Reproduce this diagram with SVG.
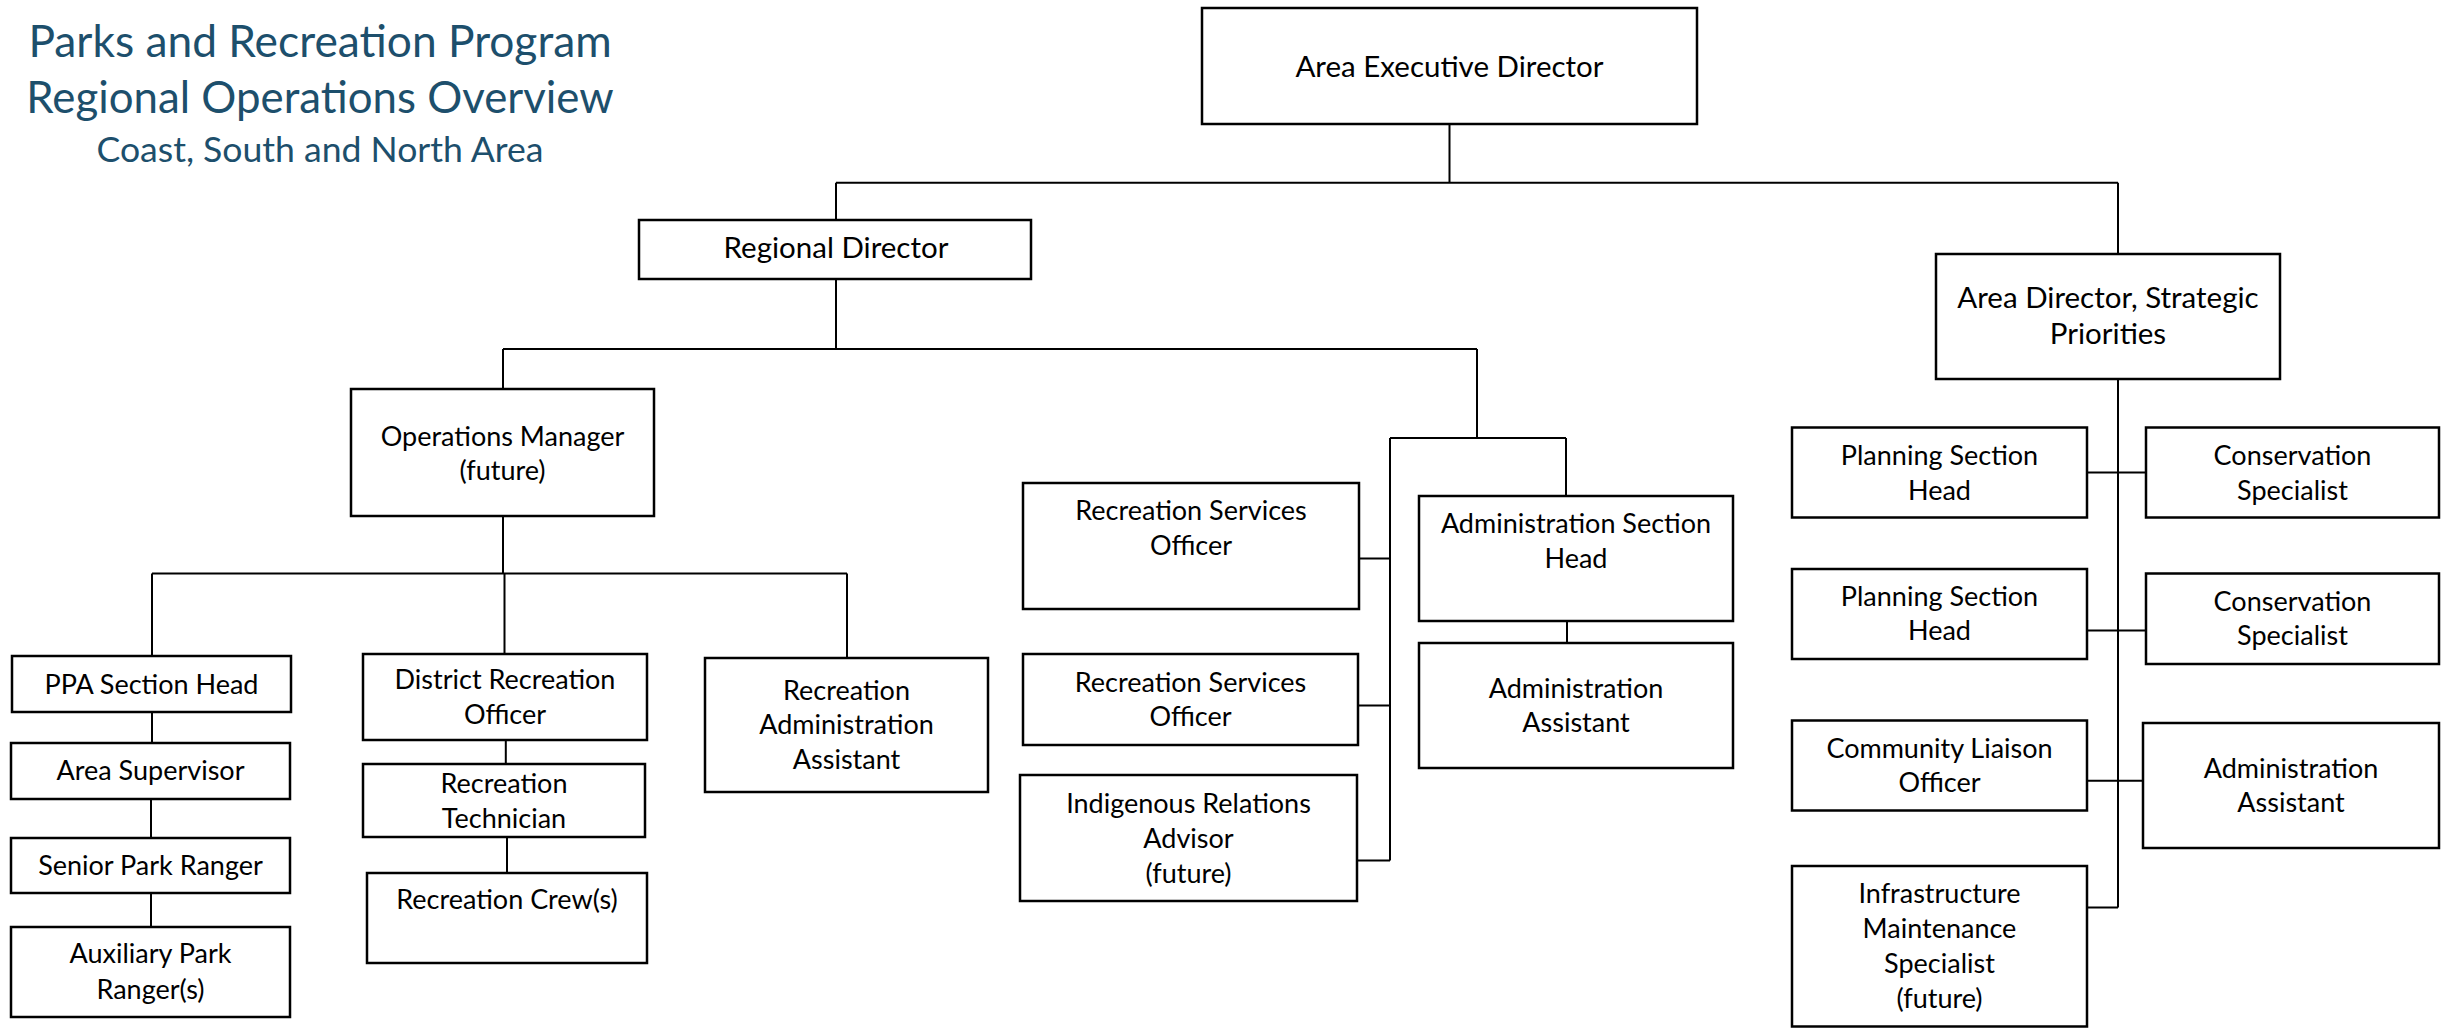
<svg xmlns="http://www.w3.org/2000/svg" width="2441" height="1028" viewBox="0 0 2441 1028">
<style>
.box{fill:#fff;stroke:#000;stroke-width:2.5}
.t{font-family:Lato,"Liberation Sans",sans-serif;font-size:27px;fill:#000;text-anchor:middle}
.big{font-size:29.5px}
.title{font-family:Lato,"Liberation Sans",sans-serif;fill:#1D4F6C;text-anchor:middle}
#connectors path{fill:none;stroke:#000;stroke-width:2}
</style>
<rect width="2441" height="1028" fill="#fff"/>
<g id="title">
<text class="title" x="320" y="57" font-size="44.3">Parks and Recreation Program</text>
<text class="title" x="320" y="113" font-size="43.8">Regional Operations Overview</text>
<text class="title" x="320" y="162" font-size="35.6">Coast, South and North Area</text>
</g>
<g id="connectors">
<path d="M1449.5 124V182.7M836 182.7H2118M836 182.7V220M2118 182.7V254"/>
<path d="M836 279V349M503 349H1477M503 349V389M1477 349V438"/>
<path d="M1390 438H1566M1566 438V496M1390 438V860.5M1359 558.6H1390M1358 705.6H1390M1357 860.5H1390M1567 621V643"/>
<path d="M503 516V573.4M152 573.4H847M152 573.4V656M504.5 573.4V654M847 573.4V658"/>
<path d="M152 712V743M151 799V838M151 893V927M505.8 740V764M507 837V873"/>
<path d="M2118 379V907.5M2087 472.6H2146M2087 630.4H2146M2087 780.8H2143M2087 907.5H2118"/>
</g>
<g id="aed"><rect class="box" x="1202" y="8" width="495" height="116"/><text class="t big" x="1449.5" y="77">Area Executive Director</text></g>
<g id="rd"><rect class="box" x="639" y="220" width="392" height="59"/><text class="t big" x="836" y="258">Regional Director</text></g>
<g id="ads"><rect class="box" x="1936" y="254" width="344" height="125"/><text class="t big" x="2108" y="308">Area Director, Strategic</text><text class="t big" x="2108" y="344">Priorities</text></g>
<g id="om"><rect class="box" x="351" y="389" width="303" height="127"/><text class="t" x="502.5" y="446">Operations Manager</text><text class="t" x="502.5" y="480">(future)</text></g>
<g id="ppa"><rect class="box" x="12" y="656" width="279" height="56"/><text class="t" x="151.5" y="694">PPA Section Head</text></g>
<g id="as"><rect class="box" x="11" y="743" width="279" height="56"/><text class="t" x="150.5" y="780">Area Supervisor</text></g>
<g id="spr"><rect class="box" x="11" y="838" width="279" height="55"/><text class="t" x="150.5" y="874.6">Senior Park Ranger</text></g>
<g id="apr"><rect class="box" x="11" y="927" width="279" height="90"/><text class="t" x="150.5" y="962.7">Auxiliary Park</text><text class="t" x="150.5" y="998.7">Ranger(s)</text></g>
<g id="dro"><rect class="box" x="363" y="654" width="284" height="86"/><text class="t" x="505" y="689">District Recreation</text><text class="t" x="505" y="723.6">Officer</text></g>
<g id="rt"><rect class="box" x="363" y="764" width="282" height="73"/><text class="t" x="504" y="793">Recreation</text><text class="t" x="504" y="827.7">Technician</text></g>
<g id="rc"><rect class="box" x="367" y="873" width="280" height="90"/><text class="t" x="507" y="909.4">Recreation Crew(s)</text></g>
<g id="raa"><rect class="box" x="705" y="658" width="283" height="134"/><text class="t" x="846.5" y="700">Recreation</text><text class="t" x="846.5" y="734.4">Administration</text><text class="t" x="846.5" y="769">Assistant</text></g>
<g id="rso1"><rect class="box" x="1023" y="483" width="336" height="126"/><text class="t" x="1191" y="520">Recreation Services</text><text class="t" x="1191" y="555">Officer</text></g>
<g id="rso2"><rect class="box" x="1023" y="654" width="335" height="91"/><text class="t" x="1190.5" y="691.5">Recreation Services</text><text class="t" x="1190.5" y="726">Officer</text></g>
<g id="ira"><rect class="box" x="1020" y="775" width="337" height="126"/><text class="t" x="1188.5" y="812.5">Indigenous Relations</text><text class="t" x="1188.5" y="847.7">Advisor</text><text class="t" x="1188.5" y="882.6">(future)</text></g>
<g id="ash"><rect class="box" x="1419" y="496" width="314" height="125"/><text class="t" x="1576" y="533">Administration Section</text><text class="t" x="1576" y="568">Head</text></g>
<g id="aa1"><rect class="box" x="1419" y="643" width="314" height="125"/><text class="t" x="1576" y="697.5">Administration</text><text class="t" x="1576" y="732.4">Assistant</text></g>
<g id="psh1"><rect class="box" x="1792" y="427.5" width="295" height="90"/><text class="t" x="1939.5" y="464.7">Planning Section</text><text class="t" x="1939.5" y="499.8">Head</text></g>
<g id="cs1"><rect class="box" x="2146" y="427.5" width="293" height="90"/><text class="t" x="2292.5" y="464.7">Conservation</text><text class="t" x="2292.5" y="500">Specialist</text></g>
<g id="psh2"><rect class="box" x="1792" y="569" width="295" height="90"/><text class="t" x="1939.5" y="606">Planning Section</text><text class="t" x="1939.5" y="640">Head</text></g>
<g id="cs2"><rect class="box" x="2146" y="573.5" width="293" height="90.5"/><text class="t" x="2292.5" y="611.4">Conservation</text><text class="t" x="2292.5" y="645.3">Specialist</text></g>
<g id="clo"><rect class="box" x="1792" y="720.5" width="295" height="90"/><text class="t" x="1939.5" y="758">Community Liaison</text><text class="t" x="1939.5" y="792.4">Officer</text></g>
<g id="aa2"><rect class="box" x="2143" y="723" width="296" height="125"/><text class="t" x="2291" y="778">Administration</text><text class="t" x="2291" y="811.8">Assistant</text></g>
<g id="ims"><rect class="box" x="1792" y="866" width="295" height="160.5"/><text class="t" x="1939.5" y="902.7">Infrastructure</text><text class="t" x="1939.5" y="937.9">Maintenance</text><text class="t" x="1939.5" y="973">Specialist</text><text class="t" x="1939.5" y="1008">(future)</text></g>
</svg>
